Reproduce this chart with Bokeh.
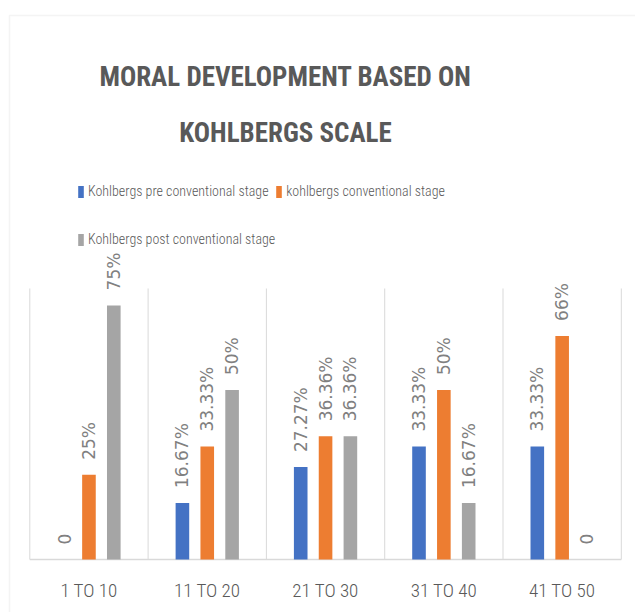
from math import pi
from bokeh.plotting import figure
from bokeh.models import (ColumnDataSource, Range1d, Label,
                          BoxAnnotation, Legend, LegendItem)
from bokeh.transform import dodge
from bokeh.core.properties import value
from bokeh.embed import file_html
from bokeh.resources import INLINE

# ---- data ----
categories = ["1 TO 10", "11 TO 20", "21 TO 30", "31 TO 40", "41 TO 50"]
series_names = ["Kohlbergs pre conventional stage",
                "kohlbergs conventional stage",
                "Kohlbergs post conventional stage"]
pre = [0, 16.67, 27.27, 33.33, 33.33]
conv = [25, 33.33, 36.36, 50, 66]
post = [75, 50, 36.36, 16.67, 0]
axis_max = 80
title_lines = ["MORAL DEVELOPMENT BASED ON", "KOHLBERGS SCALE"]

colors = ["#4472C4", "#ED7D31", "#A5A5A5"]
NARROW = "Roboto Condensed"
LIGHT = "Roboto Condensed Light"
TXT = "#595959"
GRID = "#d9d9d9"


def lbl(v):
    return "0" if v == 0 else f"{v:g}%"


n = len(categories)
centers = [i + 0.5 for i in range(n)]
bounds = list(range(n + 1))
src = ColumnDataSource(dict(
    x=centers, cat=categories,
    pre=pre, conv=conv, post=post,
    pre_l=[lbl(v) for v in pre],
    conv_l=[lbl(v) for v in conv],
    post_l=[lbl(v) for v in post],
))

# frame covers the whole canvas; ranges chosen so the plot area sits
# where the reference shows it
p = figure(width=635, height=612, output_backend="svg", toolbar_location=None,
           x_range=Range1d(-0.2477, 5.12), y_range=Range1d(-15.65, 165.02),
           min_border=0)
p.title.visible = False
p.outline_line_color = None
p.axis.visible = False
p.grid.visible = False

# category separators and baseline
p.segment(x0=bounds, x1=bounds, y0=[0] * len(bounds),
          y1=[axis_max] * len(bounds), line_color=GRID, line_width=1)
p.segment(x0=[bounds[0]], x1=[bounds[-1]], y0=[0], y1=[0],
          line_color=GRID, line_width=1.5)

offs = [-0.21, 0.0, 0.21]
keys = ["pre", "conv", "post"]
renderers = []
for k, off, c in zip(keys, offs, colors):
    r = p.vbar(x=dodge("x", off), top=k, width=0.115, source=src,
               fill_color=c, line_color=None)
    renderers.append(r)
    p.text(x=dodge("x", off), y=k, text=k + "_l", source=src, angle=pi / 2,
           text_align="left", text_baseline="middle", y_offset=-15,
           text_font=value("DejaVu Sans"), text_font_size="17px",
           text_color="#808080")

# category labels
p.text(x="x", y=0, text="cat", source=src, text_align="center",
       text_baseline="middle", y_offset=31, text_font=value(LIGHT),
       text_font_size="19px", text_color=TXT)

# legend (column-major fill: pre, post in first column; conventional in second)
order = [0, 2, 1]
legend = Legend(items=[LegendItem(label=series_names[i], renderers=[renderers[i]])
                       for i in order],
                ncols=2, location=(77, 349), glyph_width=7, glyph_height=15,
                label_height=48, spacing=0, label_standoff=4, padding=0,
                margin=0, border_line_color=None, background_fill_alpha=0,
                label_text_font=LIGHT, label_text_font_size="14px",
                label_text_color=TXT)
p.add_layout(legend, "center")

# title
for t, yy in zip(title_lines, [536, 480]):
    p.add_layout(Label(x=285, y=yy, x_units="screen", y_units="screen",
                       text=t, text_align="center",
                       text_baseline="alphabetic", text_font=NARROW,
                       text_font_style="bold", text_font_size="27px",
                       text_color=TXT))

# outer chart border
p.add_layout(BoxAnnotation(left=9, right=2000, top=597, bottom=-500,
                           left_units="screen", right_units="screen",
                           top_units="screen", bottom_units="screen",
                           fill_alpha=0, line_color=GRID, line_width=1.5))

open("out.html", "w").write(file_html(p, INLINE))
